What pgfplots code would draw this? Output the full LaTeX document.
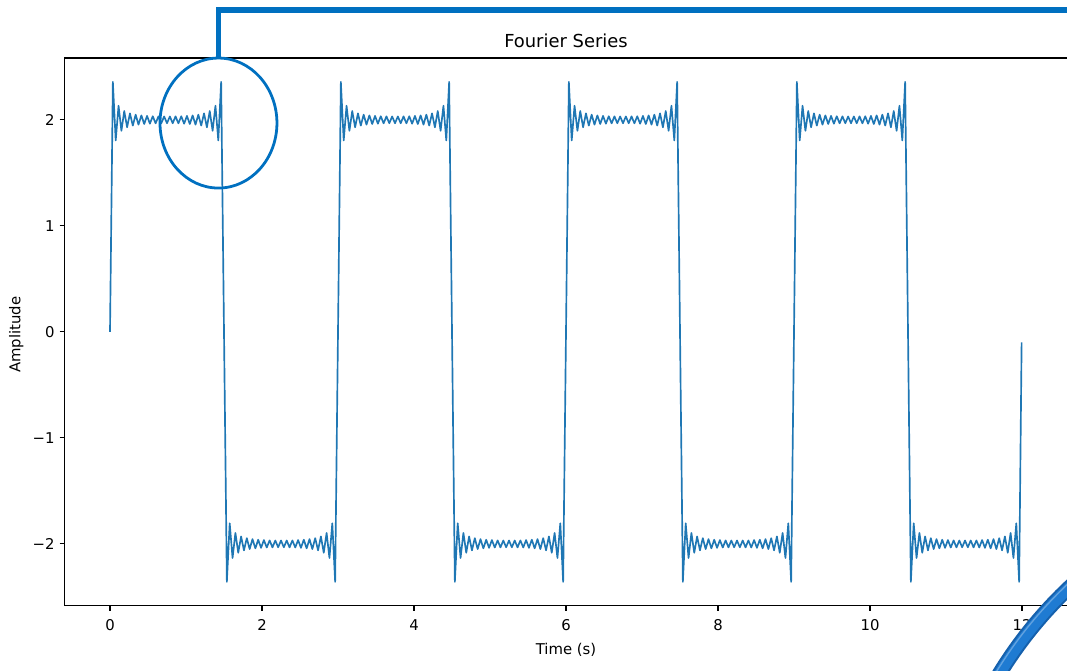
\documentclass[border=0pt]{standalone}
\usepackage{fontspec}
\setmainfont{DejaVu Sans}
\usepackage{pgfplots}
\pgfplotsset{compat=1.18}
\definecolor{mplblue}{HTML}{1F77B4}
\definecolor{annblue}{HTML}{0070C0}
\definecolor{ringdark}{HTML}{1560AC}
\definecolor{ringmid}{HTML}{1F7BD2}
\begin{document}
\begin{tikzpicture}
\path[use as bounding box] (0,0) rectangle (768.24pt,482.4pt);
\clip (0,0) rectangle (768.24pt,482.4pt);
\begin{axis}[
  at={(46.37pt,46.3pt)}, anchor=south west,
  scale only axis, width=722.3pt, height=394.3pt,
  xmin=-0.6, xmax=12.6, ymin=-2.583, ymax=2.583,
  axis line style={line width=0.8pt, black},
  tick align=outside, tick pos=left, major tick length=3.5pt,
  every tick/.style={black, line width=0.8pt},
  xtick={0,2,4,6,8,10,12}, xticklabels={0,2,4,6,8,10,12},
  ytick={-2,-1,0,1,2}, yticklabels={−2,−1,0,1,2},
  ticklabel style={font=\fontsize{10.7}{12}\selectfont},
  xticklabel style={yshift=-3pt},
  xlabel={Time (s)}, ylabel={Amplitude},
  label style={font=\fontsize{10.7}{12}\selectfont},
  xlabel style={at={(axis description cs:0.5,0)}, anchor=center, yshift=-31.7pt},
  ylabel style={at={(axis description cs:-0.0479,0.495)}, anchor=center},
  title={Fourier Series},
  title style={at={(axis description cs:0.5,1)}, anchor=center, yshift=6.5pt, font=\fontsize{12.9}{15}\selectfont},
  clip=false,
]
\addplot[mplblue, line width=1.2pt, line join=round, no marks] coordinates {
(0,0) (0.0375,2.358) (0.075,1.806) (0.1125,2.133) (0.15,1.897) (0.1875,2.083) (0.225,1.930) (0.2625,2.061) (0.3,1.946) (0.3375,2.049)
(0.375,1.955) (0.4125,2.042) (0.45,1.961) (0.4875,2.037) (0.525,1.964) (0.5625,2.034) (0.6,1.967) (0.6375,2.033) (0.675,1.968) (0.7125,2.032)
(0.75,1.968) (0.7875,2.032) (0.825,1.968) (0.8625,2.033) (0.9,1.967) (0.9375,2.034) (0.975,1.964) (1.0125,2.037) (1.05,1.961) (1.0875,2.042)
(1.125,1.955) (1.1625,2.049) (1.2,1.946) (1.2375,2.061) (1.275,1.930) (1.3125,2.083) (1.35,1.897) (1.3875,2.133) (1.425,1.806) (1.4625,2.358)
(1.5,0) (1.5375,-2.358) (1.575,-1.806) (1.6125,-2.133) (1.65,-1.897) (1.6875,-2.083) (1.725,-1.930) (1.7625,-2.061) (1.8,-1.946) (1.8375,-2.049)
(1.875,-1.955) (1.9125,-2.042) (1.95,-1.961) (1.9875,-2.037) (2.025,-1.964) (2.0625,-2.034) (2.1,-1.967) (2.1375,-2.033) (2.175,-1.968) (2.2125,-2.032)
(2.25,-1.968) (2.2875,-2.032) (2.325,-1.968) (2.3625,-2.033) (2.4,-1.967) (2.4375,-2.034) (2.475,-1.964) (2.5125,-2.037) (2.55,-1.961) (2.5875,-2.042)
(2.625,-1.955) (2.6625,-2.049) (2.7,-1.946) (2.7375,-2.061) (2.775,-1.930) (2.8125,-2.083) (2.85,-1.897) (2.8875,-2.133) (2.925,-1.806) (2.9625,-2.358)
(3,0) (3.0375,2.358) (3.075,1.806) (3.1125,2.133) (3.15,1.897) (3.1875,2.083) (3.225,1.930) (3.2625,2.061) (3.3,1.946) (3.3375,2.049)
(3.375,1.955) (3.4125,2.042) (3.45,1.961) (3.4875,2.037) (3.525,1.964) (3.5625,2.034) (3.6,1.967) (3.6375,2.033) (3.675,1.968) (3.7125,2.032)
(3.75,1.968) (3.7875,2.032) (3.825,1.968) (3.8625,2.033) (3.9,1.967) (3.9375,2.034) (3.975,1.964) (4.0125,2.037) (4.05,1.961) (4.0875,2.042)
(4.125,1.955) (4.1625,2.049) (4.2,1.946) (4.2375,2.061) (4.275,1.930) (4.3125,2.083) (4.35,1.897) (4.3875,2.133) (4.425,1.806) (4.4625,2.358)
(4.5,0) (4.5375,-2.358) (4.575,-1.806) (4.6125,-2.133) (4.65,-1.897) (4.6875,-2.083) (4.725,-1.930) (4.7625,-2.061) (4.8,-1.946) (4.8375,-2.049)
(4.875,-1.955) (4.9125,-2.042) (4.95,-1.961) (4.9875,-2.037) (5.025,-1.964) (5.0625,-2.034) (5.1,-1.967) (5.1375,-2.033) (5.175,-1.968) (5.2125,-2.032)
(5.25,-1.968) (5.2875,-2.032) (5.325,-1.968) (5.3625,-2.033) (5.4,-1.967) (5.4375,-2.034) (5.475,-1.964) (5.5125,-2.037) (5.55,-1.961) (5.5875,-2.042)
(5.625,-1.955) (5.6625,-2.049) (5.7,-1.946) (5.7375,-2.061) (5.775,-1.930) (5.8125,-2.083) (5.85,-1.897) (5.8875,-2.133) (5.925,-1.806) (5.9625,-2.358)
(6,0) (6.0375,2.358) (6.075,1.806) (6.1125,2.133) (6.15,1.897) (6.1875,2.083) (6.225,1.930) (6.2625,2.061) (6.3,1.946) (6.3375,2.049)
(6.375,1.955) (6.4125,2.042) (6.45,1.961) (6.4875,2.037) (6.525,1.964) (6.5625,2.034) (6.6,1.967) (6.6375,2.033) (6.675,1.968) (6.7125,2.032)
(6.75,1.968) (6.7875,2.032) (6.825,1.968) (6.8625,2.033) (6.9,1.967) (6.9375,2.034) (6.975,1.964) (7.0125,2.037) (7.05,1.961) (7.0875,2.042)
(7.125,1.955) (7.1625,2.049) (7.2,1.946) (7.2375,2.061) (7.275,1.930) (7.3125,2.083) (7.35,1.897) (7.3875,2.133) (7.425,1.806) (7.4625,2.358)
(7.5,0) (7.5375,-2.358) (7.575,-1.806) (7.6125,-2.133) (7.65,-1.897) (7.6875,-2.083) (7.725,-1.930) (7.7625,-2.061) (7.8,-1.946) (7.8375,-2.049)
(7.875,-1.955) (7.9125,-2.042) (7.95,-1.961) (7.9875,-2.037) (8.025,-1.964) (8.0625,-2.034) (8.1,-1.967) (8.1375,-2.033) (8.175,-1.968) (8.2125,-2.032)
(8.25,-1.968) (8.2875,-2.032) (8.325,-1.968) (8.3625,-2.033) (8.4,-1.967) (8.4375,-2.034) (8.475,-1.964) (8.5125,-2.037) (8.55,-1.961) (8.5875,-2.042)
(8.625,-1.955) (8.6625,-2.049) (8.7,-1.946) (8.7375,-2.061) (8.775,-1.930) (8.8125,-2.083) (8.85,-1.897) (8.8875,-2.133) (8.925,-1.806) (8.9625,-2.358)
(9,0) (9.0375,2.358) (9.075,1.806) (9.1125,2.133) (9.15,1.897) (9.1875,2.083) (9.225,1.930) (9.2625,2.061) (9.3,1.946) (9.3375,2.049)
(9.375,1.955) (9.4125,2.042) (9.45,1.961) (9.4875,2.037) (9.525,1.964) (9.5625,2.034) (9.6,1.967) (9.6375,2.033) (9.675,1.968) (9.7125,2.032)
(9.75,1.968) (9.7875,2.032) (9.825,1.968) (9.8625,2.033) (9.9,1.967) (9.9375,2.034) (9.975,1.964) (10.0125,2.037) (10.05,1.961) (10.0875,2.042)
(10.125,1.955) (10.1625,2.049) (10.2,1.946) (10.2375,2.061) (10.275,1.930) (10.3125,2.083) (10.35,1.897) (10.3875,2.133) (10.425,1.806) (10.4625,2.358)
(10.5,0) (10.5375,-2.358) (10.575,-1.806) (10.6125,-2.133) (10.65,-1.897) (10.6875,-2.083) (10.725,-1.930) (10.7625,-2.061) (10.8,-1.946) (10.8375,-2.049)
(10.875,-1.955) (10.9125,-2.042) (10.95,-1.961) (10.9875,-2.037) (11.025,-1.964) (11.0625,-2.034) (11.1,-1.967) (11.1375,-2.033) (11.175,-1.968) (11.2125,-2.032)
(11.25,-1.968) (11.2875,-2.032) (11.325,-1.968) (11.3625,-2.033) (11.4,-1.967) (11.4375,-2.034) (11.475,-1.964) (11.5125,-2.037) (11.55,-1.961) (11.5875,-2.042)
(11.625,-1.955) (11.6625,-2.049) (11.7,-1.946) (11.7375,-2.061) (11.775,-1.930) (11.8125,-2.083) (11.85,-1.897) (11.8875,-2.133) (11.925,-1.806) (11.9625,-2.358)
(11.995,-0.1)
};
\end{axis}
% annotation overlays
\draw[annblue, line width=4pt, line join=miter] (157.3pt,440.6pt) -- (157.3pt,475pt) -- (800pt,475pt);
\draw[annblue, line width=2pt] (157.3pt,393.8pt) ellipse [x radius=42.1pt, y radius=46.8pt];
\draw[ringdark, line width=10.8pt] (977.7pt,-160.3pt) circle [radius=302.4pt];
\draw[ringmid, line width=7.8pt] (977.7pt,-160.3pt) circle [radius=302.4pt];
\draw[white, opacity=0.3, line width=1pt] (977.7pt,-160.3pt) circle [radius=305pt];
\end{tikzpicture}
\end{document}
